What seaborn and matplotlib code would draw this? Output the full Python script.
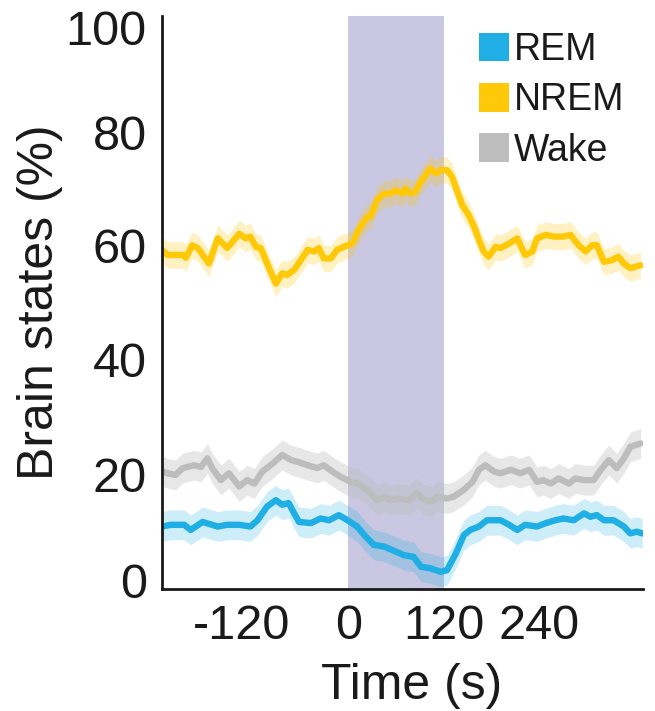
import matplotlib
matplotlib.use("Agg")
import matplotlib.pyplot as plt
import seaborn as sns
import pandas as pd
from matplotlib.patches import Patch
from matplotlib.transforms import ScaledTranslation
from matplotlib import font_manager

# Time (s) and percentage of each brain state around stimulation
rem_t = [-234, -223, -206, -198, -183, -164, -152, -137, -123, -114,
         -102, -91, -83, -75, -68, -62, -47, -35, -24, -12,
         -1, 11, 22, 32, 45, 55, 70, 82, 91, 103,
         116, 124, 135, 145, 153, 164, 174, 191, 202, 212,
         222, 237, 248, 260, 270, 283, 296, 304, 312, 321,
         333, 346, 354, 362, 369]
rem_v = [10.9, 11.2, 11.2, 10.3, 11.7, 10.9, 11.2, 11.2, 10.9, 12.0,
         14.4, 15.5, 14.7, 15.0, 13.2, 11.7, 11.5, 12.3, 12.0, 12.9,
         12.0, 10.9, 9.1, 7.7, 7.4, 6.8, 5.9, 5.6, 3.9, 3.6,
         3.0, 3.3, 6.2, 9.4, 10.3, 10.9, 12.0, 12.0, 11.2, 10.3,
         11.2, 10.9, 11.5, 12.0, 12.3, 12.0, 13.2, 12.6, 12.9, 12.0,
         12.0, 10.9, 9.7, 10.0, 9.7]

nrem_t = [-234, -227, -208, -204, -196, -189, -175, -164, -152, -137,
          -129, -123, -116, -110, -102, -91, -83, -77, -68, -51,
          -43, -37, -31, -22, -14, -1, 5, 13, 24, 28,
          36, 45, 53, 59, 68, 72, 78, 84, 91, 97,
          103, 110, 116, 124, 130, 137, 143, 151, 158, 164,
          170, 176, 185, 191, 202, 212, 222, 231, 237, 248,
          258, 270, 279, 289, 298, 306, 312, 321, 331, 339,
          346, 354, 367]
nrem_v = [59.2, 58.3, 58.3, 57.8, 60.0, 59.5, 56.8, 61.2, 59.5, 62.0,
          61.2, 61.5, 59.7, 59.5, 56.8, 53.3, 55.1, 54.8, 55.7, 59.2,
          58.9, 59.5, 57.7, 57.7, 59.2, 60.0, 60.3, 62.7, 65.0, 65.0,
          67.9, 69.0, 69.0, 69.6, 69.0, 69.9, 69.0, 69.3, 71.1, 72.2,
          73.4, 72.5, 73.1, 73.1, 72.0, 69.3, 67.0, 65.3, 63.2, 60.9,
          58.9, 58.0, 59.7, 59.5, 60.3, 61.2, 58.3, 58.9, 61.2, 61.8,
          61.5, 61.5, 61.8, 60.0, 58.9, 60.0, 60.0, 57.1, 57.4, 58.0,
          56.8, 56.0, 56.5]

wake_t = [-234, -227, -217, -208, -194, -185, -177, -171, -160, -150,
          -137, -127, -118, -108, -95, -83, -72, -64, -51, -39,
          -31, -20, -10, 3, 11, 24, 36, 45, 53, 63,
          76, 86, 93, 105, 112, 124, 132, 145, 156, 164,
          172, 183, 191, 204, 216, 227, 237, 245, 254, 264,
          277, 285, 296, 308, 317, 327, 337, 346, 354, 367]
wake_v = [20.5, 20.2, 19.9, 21.1, 21.6, 21.3, 22.8, 21.1, 19.0, 20.2,
          17.9, 19.0, 18.4, 20.5, 21.9, 23.4, 22.5, 22.2, 21.6, 21.1,
          21.6, 20.5, 19.6, 18.7, 18.4, 17.3, 15.5, 16.1, 15.5, 15.8,
          15.5, 16.7, 15.8, 15.2, 16.1, 15.8, 16.1, 17.3, 18.7, 20.8,
          21.6, 20.5, 20.2, 20.8, 20.2, 20.8, 18.7, 19.0, 18.4, 19.3,
          18.4, 19.3, 19.0, 19.0, 20.8, 22.5, 21.1, 22.8, 24.8, 25.4]

# SEM half-width of the shaded band around each mean trace
sem = {"REM": 2.6, "NREM": 2.3, "Wake": 2.6}

states = ["REM", "NREM", "Wake"]
line_colors = {"REM": "#1fafe4", "NREM": "#ffc90a", "Wake": "#bdbdbd"}
band_alpha = {"REM": 0.22, "NREM": 0.25, "Wake": 0.35}
stim_window = (0, 120)
x_ticks = [-120, 0, 120, 240]
y_ticks = [0, 20, 40, 60, 80, 100]

frames = []
for name, t, v in [("REM", rem_t, rem_v), ("NREM", nrem_t, nrem_v), ("Wake", wake_t, wake_v)]:
    frames.append(pd.DataFrame({"time": t, "value": v, "state": name}))
df = pd.concat(frames, ignore_index=True)

sns.set_style("white")
installed = {f.name for f in font_manager.fontManager.ttflist}
base_font = "Liberation Sans" if "Liberation Sans" in installed else "DejaVu Sans"
plt.rcParams["font.family"] = [base_font, "DejaVu Sans"]
ink = "#1a1a1a"

fig = plt.figure(figsize=(6.55, 7.11), dpi=100)
ax = fig.add_axes([0.2473, 0.1716, 0.7344, 0.8059])

ax.axvspan(*stim_window, color="#c9c7e1", lw=0, zorder=0)

for name in states:
    sub = df[df.state == name]
    ax.fill_between(sub.time, sub.value - sem[name], sub.value + sem[name],
                    color=line_colors[name], alpha=band_alpha[name], lw=0, zorder=1)

sns.lineplot(data=df, x="time", y="value", hue="state", hue_order=states,
             palette=line_colors, estimator=None, sort=True, linewidth=4.6,
             legend=False, ax=ax, zorder=2)

ax.set_xlim(-234, 370)
ax.set_ylim(0, 100)
ax.set_xticks(x_ticks)
ax.set_xticklabels([str(x) for x in x_ticks])
ax.set_yticks(y_ticks)
ax.set_yticklabels([str(y) for y in y_ticks])

for side in ["top", "right"]:
    ax.spines[side].set_visible(False)
for side in ["left", "bottom"]:
    ax.spines[side].set_linewidth(2.0)
    ax.spines[side].set_color(ink)

ax.tick_params(axis="both", direction="in", length=6, width=2.0, color=ink,
               labelcolor=ink, labelsize=35)
ax.tick_params(axis="x", pad=11)
ax.tick_params(axis="y", pad=11)

# nudge tick labels (points) so the top one stays inside the figure
y_nudge = {0: -6, 20: 0, 40: 0, 60: 0, 80: 1.5, 100: 8}
for val, lbl in zip(y_ticks, ax.get_yticklabels()):
    lbl.set_transform(lbl.get_transform() +
                      ScaledTranslation(0, -y_nudge[val] / 72, fig.dpi_scale_trans))
x_nudge = {-120: -8, 0: 0, 120: 0, 240: 0}
for val, lbl in zip(x_ticks, ax.get_xticklabels()):
    lbl.set_transform(lbl.get_transform() +
                      ScaledTranslation(x_nudge[val] / 72, 0, fig.dpi_scale_trans))

ax.set_xlabel("Time (s)", fontsize=36, color=ink)
ax.set_ylabel("Brain states (%)", fontsize=36, color=ink)
ax.xaxis.set_label_coords(0.518, -0.129)
ax.yaxis.set_label_coords(-0.206, 0.5)

handles = [Patch(facecolor=line_colors[s], edgecolor="none") for s in states]
leg = ax.legend(handles, states, loc="upper left", bbox_to_anchor=(0.66, 0.972),
                frameon=False, fontsize=27, handlelength=0.8, handleheight=0.8,
                handletextpad=0.12, labelspacing=0.38, borderpad=0, borderaxespad=0)
for txt in leg.get_texts():
    txt.set_color(ink)

fig.savefig("out.png", dpi=100)
